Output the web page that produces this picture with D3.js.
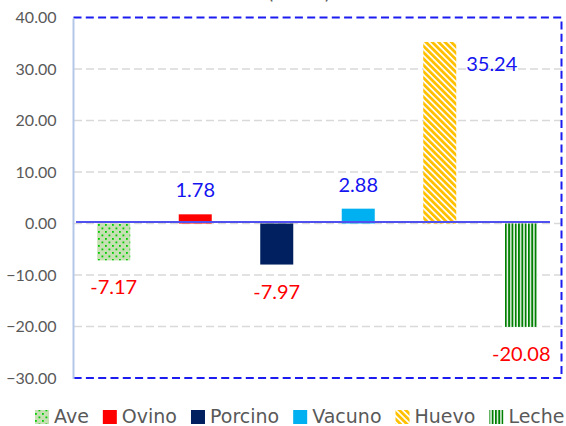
<!DOCTYPE html>
<html>
<head>
  <meta charset="utf-8">
  <script src="https://d3js.org/d3.v7.min.js"></script>
  <style>
    body { margin: 0; background: #fff; }
    svg { display: block; }
  </style>
</head>
<body>
<script>
  // chart data
  var categories = ["Ave", "Ovino", "Porcino", "Vacuno", "Huevo", "Leche"];
  var values = [-7.17, 1.78, -7.97, 2.88, 35.24, -20.08];
  var yTicks = [-30, -20, -10, 0, 10, 20, 30, 40];
  var titleText = "(Var. %)";

  // one fill per category (solid colours or pattern ids)
  var fills = ["url(#pAve)", "#ff0000", "#002060", "#00b0f0", "url(#pHuevo)", "url(#pLeche)"];

  var width = 566, height = 426;
  var plotLeft = 73, plotRight = 562, plotTop = 17.5, plotBottom = 378;

  var svg = d3.select("body").append("svg")
      .attr("width", width)
      .attr("height", height);

  // patterns
  var defs = svg.append("defs");
  var pAve = defs.append("pattern").attr("id", "pAve")
      .attr("patternUnits", "userSpaceOnUse").attr("width", 7).attr("height", 7);
  pAve.append("rect").attr("width", 7).attr("height", 7).attr("fill", "#c6e0b4");
  pAve.append("rect").attr("x", 0).attr("y", 0).attr("width", 1.8).attr("height", 1.8).attr("fill", "#00cc00");
  pAve.append("rect").attr("x", 3.5).attr("y", 3.5).attr("width", 1.8).attr("height", 1.8).attr("fill", "#00cc00");

  var pHuevo = defs.append("pattern").attr("id", "pHuevo")
      .attr("patternUnits", "userSpaceOnUse").attr("width", 4.5).attr("height", 4.5)
      .attr("patternTransform", "rotate(-45)");
  pHuevo.append("rect").attr("width", 4.5).attr("height", 4.5).attr("fill", "#fff");
  pHuevo.append("rect").attr("width", 2.8).attr("height", 4.5).attr("fill", "#ffc000");

  var pLeche = defs.append("pattern").attr("id", "pLeche")
      .attr("patternUnits", "userSpaceOnUse").attr("width", 3.3).attr("height", 4);
  pLeche.append("rect").attr("width", 3.3).attr("height", 4).attr("fill", "#fff");
  pLeche.append("rect").attr("width", 1.9).attr("height", 4).attr("fill", "#008000");

  var x = d3.scaleBand()
      .domain(categories)
      .range([plotLeft, plotRight])
      .paddingInner(0.595)
      .paddingOuter(0.2975);

  var y = d3.scaleLinear()
      .domain([-30, 40])
      .range([plotBottom, plotTop]);

  // partial title (cut off at the top edge)
  svg.append("text")
      .attr("x", 299)
      .attr("y", -1)
      .attr("text-anchor", "middle")
      .style("font-family", "Lato, sans-serif")
      .style("font-size", "19px")
      .style("fill", "#595959")
      .text(titleText);

  // gridlines
  svg.append("g").selectAll("line")
      .data(yTicks.filter(function (d) { return d > -30 && d < 40; }))
      .enter().append("line")
      .attr("x1", plotLeft + 1)
      .attr("x2", plotRight)
      .attr("y1", function (d) { return y(d); })
      .attr("y2", function (d) { return y(d); })
      .attr("stroke", "#d9d9d9")
      .attr("stroke-width", 1.5)
      .attr("stroke-dasharray", "8,4");

  // dashed plot border (top, right, bottom; the axis line is the left side)
  var bx0 = plotLeft + 0.5, bx1 = plotRight - 0.5;
  svg.append("path")
      .attr("d", "M" + bx0 + "," + plotTop + "H" + bx1 + "V" + plotBottom + "H" + bx0)
      .attr("fill", "none")
      .attr("stroke", "#1c1cf0")
      .attr("stroke-width", 2)
      .attr("stroke-dasharray", "8,4.3");

  // bars
  svg.append("g").selectAll("rect")
      .data(values)
      .enter().append("rect")
      .attr("x", function (d, i) { return x(categories[i]); })
      .attr("y", function (d) { return Math.min(y(d), y(0)); })
      .attr("width", x.bandwidth())
      .attr("height", function (d) { return Math.abs(y(d) - y(0)); })
      .attr("fill", function (d, i) { return fills[i]; });

  // zero line
  svg.append("line")
      .attr("x1", plotLeft + 3)
      .attr("x2", plotRight - 12)
      .attr("y1", y(0) - 1.5)
      .attr("y2", y(0) - 1.5)
      .attr("stroke", "#5050f0")
      .attr("stroke-width", 2);

  // y axis
  var yAxis = d3.axisLeft(y)
      .tickValues(yTicks)
      .tickFormat(d3.format(".2f"))
      .tickSize(0)
      .tickPadding(17);

  var ga = svg.append("g")
      .attr("transform", "translate(" + (plotLeft + 0.5) + ",0)")
      .call(yAxis);
  ga.select(".domain")
      .attr("stroke", "#b4c7e7")
      .attr("stroke-width", 2)
      .attr("d", "M0," + (plotTop + 1) + "V" + (plotBottom + 1));
  ga.selectAll("text")
      .style("font-family", "Lato, sans-serif")
      .style("font-size", "16px")
      .style("fill", "#595959");

  // data labels (the tallest one sits beside its bar)
  svg.append("g").selectAll("text")
      .data(values)
      .enter().append("text")
      .attr("x", function (d, i) {
        var cx = x(categories[i]) + x.bandwidth() / 2;
        return y(d) - 17 < plotTop + 20 ? cx + 52 : cx;
      })
      .attr("y", function (d) {
        if (d >= 0) return y(d) - 17 < plotTop + 20 ? y(d) + 29 : y(d) - 17;
        return y(d) + 34;
      })
      .attr("text-anchor", "middle")
      .style("font-family", "Lato, sans-serif")
      .style("font-size", "20px")
      .style("fill", function (d) { return d >= 0 ? "#1414f0" : "#ff0000"; })
      .text(function (d) { return d.toFixed(2); });

  // legend
  var legend = svg.append("g");
  var lx = 35;
  categories.forEach(function (c, i) {
    legend.append("rect")
        .attr("x", lx)
        .attr("y", 410)
        .attr("width", 14)
        .attr("height", 14)
        .attr("fill", fills[i]);
    var t = legend.append("text")
        .attr("x", lx + 19)
        .attr("y", 423)
        .style("font-family", "DejaVu Sans, sans-serif")
        .style("font-size", "19px")
        .style("fill", "#595959")
        .text(c);
    lx += 19 + t.node().getComputedTextLength() + 14;
  });
</script>
</body>
</html>
